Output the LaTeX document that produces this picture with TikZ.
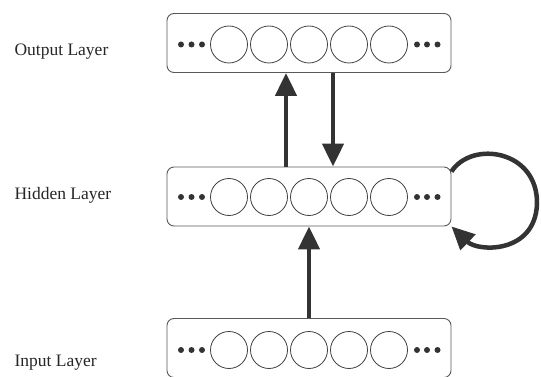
\documentclass[tikz,border=0pt]{standalone}
\usepackage{fontspec}
\setmainfont{Liberation Serif}
\usetikzlibrary{arrows.meta}

\tikzset{
  layerbox/.style={draw=black!65, line width=0.9pt, rounded corners=7pt,
    minimum width=284pt, minimum height=59pt, inner sep=0pt},
  unit/.style={circle, draw=black!75, line width=0.8pt, minimum size=37pt, inner sep=0pt},
  link/.style={draw=black!80, line width=4.5pt, -{Triangle[length=23pt,width=21pt]}},
  lbl/.style={anchor=base west, font=\fontsize{17.5}{20}\selectfont, text=black!85}
}

\begin{document}
\begin{tikzpicture}[x=1pt,y=-1pt]
    \useasboundingbox (0,0) rectangle (541,377);

    \node[layerbox] (output) at (309,43) {};
    \node[layerbox] (hidden) at (309,196.5) {};
    \node[layerbox] (input) at (309,348) {};

    \foreach \l/\y in {output/44.5, hidden/197, input/350} {
        \foreach \i in {1,...,5}
            \node[unit] (\l-\i) at ({189+40*\i},\y) {};
        \foreach \x in {181,191.5,202,417,427,437.5}
            \fill[black!80] (\x,\y) circle [radius=3pt];
    }

    \node[lbl] (lbl-output) at (11,56) {Output Layer};
    \node[lbl] (lbl-hidden) at (11,200) {Hidden Layer};
    \node[lbl] (lbl-input) at (11,366) {Input Layer};

    \draw[link] ([xshift=-23pt]hidden.north) -- ([xshift=-23pt]output.south);
    \draw[link] ([xshift=24pt]output.south) -- ([xshift=24pt]hidden.north);
    \draw[link] (input.north) -- (hidden.south);
    \draw[link] ([yshift=-5pt]hidden.north east) .. controls (472,140) and (538,150) .. (537,204)
        .. controls (535,254) and (478,252) .. (hidden.south east);
\end{tikzpicture}
\end{document}
